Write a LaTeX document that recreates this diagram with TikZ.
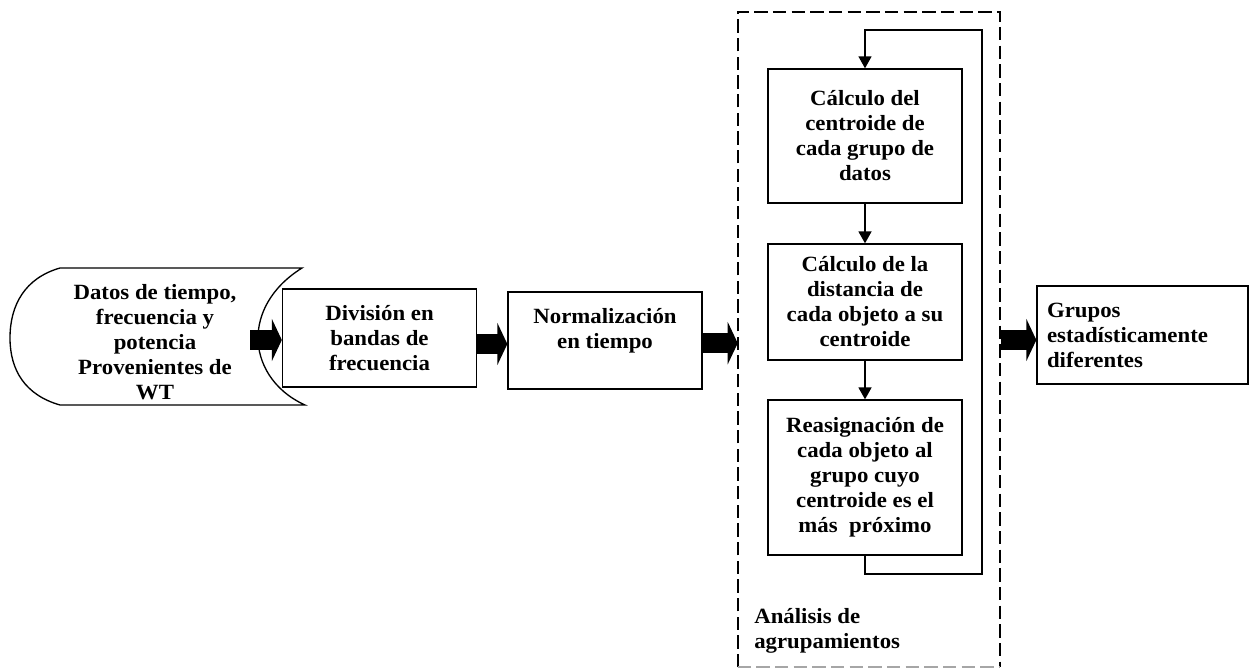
\documentclass[tikz,border=0pt]{standalone}
\usepackage{fontspec}
\setmainfont{Liberation Serif}[FakeStretch=1.05]
\usetikzlibrary{arrows.meta}
\newcommand\boxfont{\fontsize{16.3}{18.75}\selectfont\bfseries}
\begin{document}
\begin{tikzpicture}[x=0.75pt,y=-0.75pt,
  box/.style={draw, line width=1pt, align=center, font=\boxfont, inner sep=0pt},
  plain/.style={align=center, font=\boxfont, inner sep=0pt},
  bigarrow/.style={line width=15pt, -{Triangle[length=7.5pt,width=31.5pt]}},
  flow/.style={line width=1.3pt, -{Triangle[length=9pt,width=9.75pt]}},
  loopline/.style={line width=1pt, -{Triangle[length=9pt,width=9.75pt]}},
  dashbox/.style={line width=1.4pt, dash pattern=on 10pt off 4pt}]
\useasboundingbox (0,0) rectangle (1249,671);

% stored data shape
\draw[line width=1pt] (60,268) -- (302,268)
  .. controls (270,288) and (258,315) .. (258,338)
  .. controls (258,362) and (272,390) .. (305,405)
  -- (60,405)
  .. controls (25,395) and (10,370) .. (10,338)
  .. controls (10,305) and (25,278) .. (60,268);
\node[plain] (datos) at (155,342) {Datos de tiempo,\\frecuencia y\\potencia\\Provenientes de\\WT};

\node[box, minimum width=145.5pt, minimum height=73.5pt] (div) at (379.5,338)
  {División en\\bandas de\\frecuencia};
\node[box, minimum width=145.5pt, minimum height=72.75pt] (norm) at (605,340.5)
  {Normalización\\en tiempo\\\mbox{}};

% clustering region
\node[minimum width=196.5pt, minimum height=491.25pt, inner sep=0pt] (clus) at (869,339.5) {};
\draw[dashbox] (clus.south west) -- (clus.north west) -- (clus.north east) -- (clus.south east);
\draw[dashbox, gray!70] (clus.south west) -- (clus.south east);

\node[box, minimum width=145.5pt, minimum height=100.5pt] (c1) at (865,136)
  {Cálculo del\\centroide de\\cada grupo de\\datos};
\node[box, minimum width=145.5pt, minimum height=87pt] (c2) at (865,302)
  {Cálculo de la\\distancia de\\cada objeto a su\\centroide};
\node[box, minimum width=145.5pt, minimum height=116.25pt] (c3) at (865,477.5)
  {Reasignación de\\cada objeto al\\grupo cuyo\\centroide es el\\más\ \ próximo};

\node[plain, align=left, anchor=base west] (ana) at (754,648) {Análisis de\\agrupamientos};

\node[box, align=left, inner sep=7.5pt, text width=143.25pt, minimum height=73.5pt] (grp) at (1142.5,335)
  {Grupos\\estadísticamente\\diferentes};

% connectors
\coordinate (a1) at (250,340);
\draw[bigarrow] (a1) -- (a1 -| div.west);
\draw[bigarrow] ([yshift=-4.5pt]div.east) -- ([yshift=-4.5pt]div.east -| norm.west);
\draw[bigarrow] ([yshift=-2pt]norm.east) -- ([yshift=-2pt]norm.east -| clus.west);
\coordinate (a4) at (1001,340);
\draw[bigarrow] (a4) -- (a4 -| grp.west);

\draw[flow] (c1) -- (c2);
\draw[flow] (c2) -- (c3);
\coordinate (lb) at (982,574);
\coordinate (lt) at (982,30);
\draw[loopline] (c3.south) |- (lb) -- (lt) -| (c1.north);
\end{tikzpicture}
\end{document}
